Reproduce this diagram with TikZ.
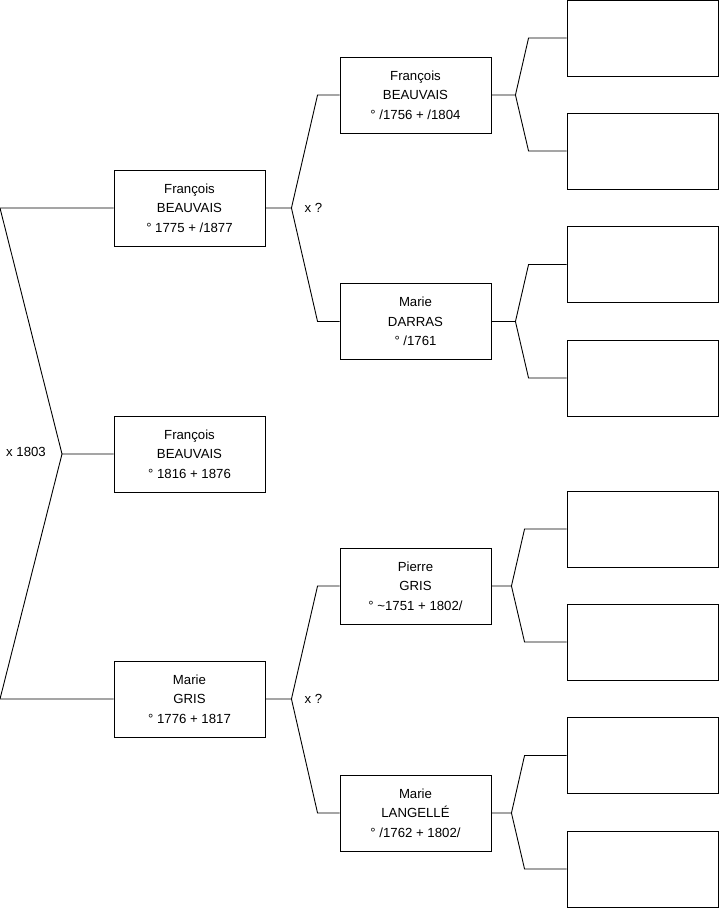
\documentclass[tikz,border=0pt]{standalone}
\usepackage{fontspec}
\setmainfont{Liberation Sans}
\usepackage{tikz}
\usetikzlibrary{positioning,calc}
\tikzset{
  fiche/.style={draw,line width=0.9pt,minimum width=151pt,minimum height=76pt,
    inner sep=0pt,align=center,font=\fontsize{13.2}{19.5}\selectfont},
  vide/.style={fiche},
  trait/.style={line width=0.9pt},
  union/.style={inner sep=0pt,font=\fontsize{13.2}{15}\selectfont},
}

\begin{document}
\begin{tikzpicture}[x=1pt,y=-1pt]
  \useasboundingbox (0,0) rectangle (719,908);
  % individu et parents
  \node[fiche] (ego) at (189.5,454) {François\\BEAUVAIS\\° 1816 + 1876};
  \node[fiche] (pere) at (189.5,208) {François\\BEAUVAIS\\° 1775 + /1877};
  \node[fiche] (mere) at (189.5,699) {Marie\\GRIS\\° 1776 + 1817};
  % grands-parents
  \node[fiche] (gpp) at (415.5,95) {François\\BEAUVAIS\\° /1756 + /1804};
  \node[fiche] (gmp) at (415.5,321.5) {Marie\\DARRAS\\° /1761};
  \node[fiche] (gpm) at (415.5,586) {Pierre\\GRIS\\° \textasciitilde1751 + 1802/};
  \node[fiche] (gmm) at (415.5,813) {Marie\\LANGELLÉ\\° /1762 + 1802/};
  % arriere-grands-parents (vides)
  \foreach \i/\y in {1/38,2/151,3/264.5,4/378,5/529,6/642,7/755.5,8/869}
    \node[vide] (a\i) at (642.5,\y) {};

  % liens
  \coordinate (j0) at (62,454);
  \coordinate (h0) at (0,208);
  \coordinate (b0) at (0,699);
  \draw[trait] (ego.west) -- (j0) -- (h0) -- (pere.west);
  \draw[trait] (j0) -- (b0) -- (mere.west);
  \node[union,anchor=east] (m0) at (46,452) {x 1803};

  \foreach \e/\h/\b/\n in {pere/gpp/gmp/m1,mere/gpm/gmm/m2} {
    \draw[trait] (\e.east) -- ++(26,0) coordinate (j) -- ([xshift=-22pt]\h.west) -- (\h.west);
    \draw[trait] (j) -- ([xshift=-22pt]\b.west) -- (\b.west);
    \node[union,anchor=west] (\n) at ([xshift=39pt]\e.east) {x ?};
  }

  \foreach \g/\d/\u/\v/\e in {gpp/24/a1/a2/38,gmp/24/a3/a4/38,gpm/20/a5/a6/42,gmm/20/a7/a8/42} {
    \draw[trait] (\g.east) -- ++(\d,0) coordinate (j) -- ([xshift=-\e pt]\u.west) -- (\u.west);
    \draw[trait] (j) -- ([xshift=-\e pt]\v.west) -- (\v.west);
  }
\end{tikzpicture}
\end{document}
